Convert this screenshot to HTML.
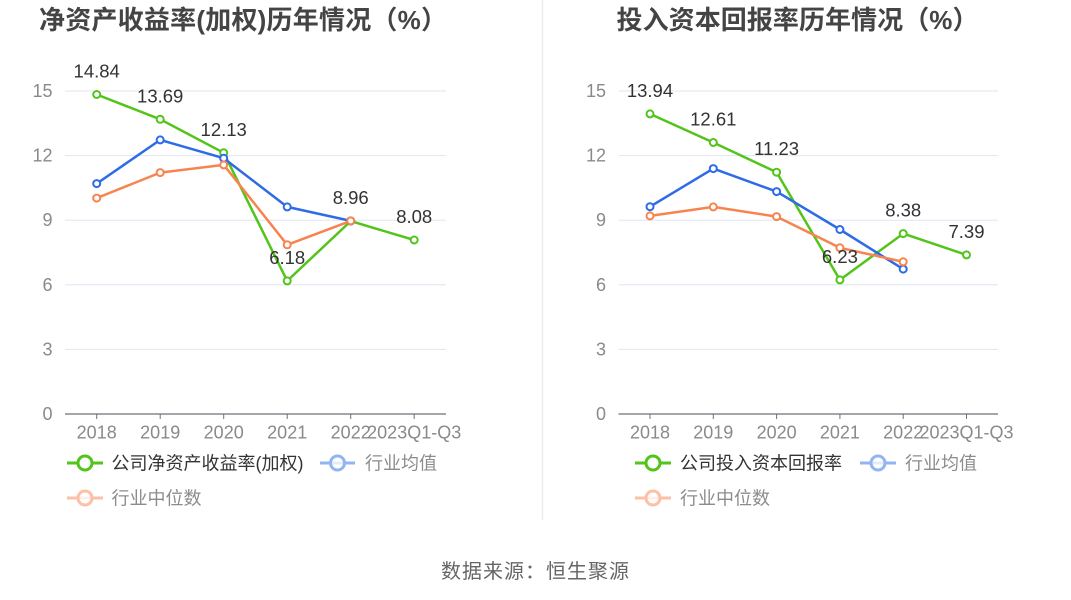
<!DOCTYPE html>
<html>
<head>
<meta charset="utf-8">
<style>
  html, body { margin: 0; padding: 0; background: #ffffff; }
  body { width: 1071px; height: 600px; overflow: hidden; }
  svg { display: block; }
  .title { font-family: "Liberation Sans", "Noto Sans CJK SC", sans-serif; font-weight: bold; font-size: 26px; fill: #444; }
  .ylab { font-family: "Liberation Sans", sans-serif; font-size: 18px; fill: #8a8a8a; text-anchor: end; }
  .xlab { font-family: "Liberation Sans", sans-serif; font-size: 18px; fill: #8a8a8a; text-anchor: middle; }
  .dlab { font-family: "Liberation Sans", sans-serif; font-size: 18.5px; fill: #333; text-anchor: middle; }
  .leg { font-family: "Liberation Sans", "Noto Sans CJK SC", sans-serif; font-size: 18px; }
  .foot { font-family: "Liberation Sans", "Noto Sans CJK SC", sans-serif; font-size: 20px; fill: #666; }
</style>
</head>
<body>
<svg width="1071" height="600" viewBox="0 0 1071 600" xmlns="http://www.w3.org/2000/svg">
  <rect width="1071" height="600" fill="#fff"/>

  <!-- separator -->
  <line x1="542.5" y1="0" x2="542.5" y2="520" stroke="#eeeeee" stroke-width="1.5"/>

  <!-- ================= LEFT CHART ================= -->
  <text class="title" x="39" y="29" textLength="408" lengthAdjust="spacing">净资产收益率(加权)历年情况（%）</text>

  <!-- grid -->
  <g stroke="#e0e6f1" stroke-width="1">
    <line x1="65" y1="91" x2="446" y2="91"/>
    <line x1="65" y1="155.6" x2="446" y2="155.6"/>
    <line x1="65" y1="220.2" x2="446" y2="220.2"/>
    <line x1="65" y1="284.8" x2="446" y2="284.8"/>
    <line x1="65" y1="349.4" x2="446" y2="349.4"/>
  </g>
  <line x1="65" y1="414" x2="446" y2="414" stroke="#6e7079" stroke-width="1.2"/>
  <g stroke="#6e7079" stroke-width="1">
    <line x1="96.7" y1="414" x2="96.7" y2="419"/>
    <line x1="160.2" y1="414" x2="160.2" y2="419"/>
    <line x1="223.7" y1="414" x2="223.7" y2="419"/>
    <line x1="287.2" y1="414" x2="287.2" y2="419"/>
    <line x1="350.7" y1="414" x2="350.7" y2="419"/>
    <line x1="414.2" y1="414" x2="414.2" y2="419"/>
  </g>
  <!-- y labels -->
  <text class="ylab" x="52.5" y="97">15</text>
  <text class="ylab" x="52.5" y="161.6">12</text>
  <text class="ylab" x="52.5" y="226.2">9</text>
  <text class="ylab" x="52.5" y="290.8">6</text>
  <text class="ylab" x="52.5" y="355.4">3</text>
  <text class="ylab" x="52.5" y="420">0</text>
  <!-- x labels -->
  <text class="xlab" x="96.7" y="438.5">2018</text>
  <text class="xlab" x="160.2" y="438.5">2019</text>
  <text class="xlab" x="223.7" y="438.5">2020</text>
  <text class="xlab" x="287.2" y="438.5">2021</text>
  <text class="xlab" x="350.7" y="438.5">2022</text>
  <text class="xlab" x="414.2" y="438.5">2023Q1-Q3</text>

  <!-- series -->
  <g fill="none" stroke-width="2.5" stroke-linejoin="round">
    <polyline stroke="#52c41a" points="96.7,94.5 160.2,119.3 223.7,152.8 287.2,280.9 350.7,221.1 414.2,240.0"/>
    <polyline stroke="#2e6be6" points="96.7,183.6 160.2,139.9 223.7,158.2 287.2,206.9 350.7,220.9"/>
    <polyline stroke="#f7844f" points="96.7,198.1 160.2,172.6 223.7,164.9 287.2,244.8 350.7,220.9"/>
  </g>
  <g fill="#fff" stroke-width="2">
    <g stroke="#52c41a">
      <circle cx="96.7" cy="94.5" r="3.5"/><circle cx="160.2" cy="119.3" r="3.5"/><circle cx="223.7" cy="152.8" r="3.5"/>
      <circle cx="287.2" cy="280.9" r="3.5"/><circle cx="350.7" cy="221.1" r="3.5"/><circle cx="414.2" cy="240.0" r="3.5"/>
    </g>
    <g stroke="#2e6be6">
      <circle cx="96.7" cy="183.6" r="3.5"/><circle cx="160.2" cy="139.9" r="3.5"/><circle cx="223.7" cy="158.2" r="3.5"/>
      <circle cx="287.2" cy="206.9" r="3.5"/><circle cx="350.7" cy="220.9" r="3.5"/>
    </g>
    <g stroke="#f7844f">
      <circle cx="96.7" cy="198.1" r="3.5"/><circle cx="160.2" cy="172.6" r="3.5"/><circle cx="223.7" cy="164.9" r="3.5"/>
      <circle cx="287.2" cy="244.8" r="3.5"/><circle cx="350.7" cy="220.9" r="3.5"/>
    </g>
  </g>
  <!-- data labels -->
  <text class="dlab" x="96.7" y="77.5">14.84</text>
  <text class="dlab" x="160.2" y="102.3">13.69</text>
  <text class="dlab" x="223.7" y="135.8">12.13</text>
  <text class="dlab" x="287.2" y="263.9">6.18</text>
  <text class="dlab" x="350.7" y="204.1">8.96</text>
  <text class="dlab" x="414.2" y="223">8.08</text>

  <!-- legend -->
  <g>
    <line x1="67" y1="463" x2="103" y2="463" stroke="#52c41a" stroke-width="3"/>
    <circle cx="85" cy="463" r="7" fill="#fff" stroke="#52c41a" stroke-width="3"/>
    <text class="leg" x="111.5" y="469.5" fill="#333">公司净资产收益率(加权)</text>

    <line x1="320" y1="463" x2="355" y2="463" stroke="#93b4f2" stroke-width="3"/>
    <circle cx="337.5" cy="463" r="7" fill="#fff" fill-opacity="0.75" stroke="#93b4f2" stroke-width="3"/>
    <text class="leg" x="365" y="469.5" fill="#8c8c8c">行业均值</text>

    <line x1="67" y1="498" x2="103" y2="498" stroke="#fcc0a6" stroke-width="3"/>
    <circle cx="85" cy="498" r="7" fill="#fff" fill-opacity="0.75" stroke="#fcc0a6" stroke-width="3"/>
    <text class="leg" x="111.5" y="504.5" fill="#8c8c8c">行业中位数</text>
  </g>

  <!-- ================= RIGHT CHART ================= -->
  <text class="title" x="616.5" y="29" textLength="362" lengthAdjust="spacing">投入资本回报率历年情况（%）</text>

  <g stroke="#e0e6f1" stroke-width="1">
    <line x1="618.5" y1="91" x2="998" y2="91"/>
    <line x1="618.5" y1="155.6" x2="998" y2="155.6"/>
    <line x1="618.5" y1="220.2" x2="998" y2="220.2"/>
    <line x1="618.5" y1="284.8" x2="998" y2="284.8"/>
    <line x1="618.5" y1="349.4" x2="998" y2="349.4"/>
  </g>
  <line x1="618.5" y1="414" x2="998" y2="414" stroke="#6e7079" stroke-width="1.2"/>
  <g stroke="#6e7079" stroke-width="1">
    <line x1="650" y1="414" x2="650" y2="419"/>
    <line x1="713.3" y1="414" x2="713.3" y2="419"/>
    <line x1="776.6" y1="414" x2="776.6" y2="419"/>
    <line x1="839.9" y1="414" x2="839.9" y2="419"/>
    <line x1="903.2" y1="414" x2="903.2" y2="419"/>
    <line x1="966.5" y1="414" x2="966.5" y2="419"/>
  </g>
  <text class="ylab" x="606" y="97">15</text>
  <text class="ylab" x="606" y="161.6">12</text>
  <text class="ylab" x="606" y="226.2">9</text>
  <text class="ylab" x="606" y="290.8">6</text>
  <text class="ylab" x="606" y="355.4">3</text>
  <text class="ylab" x="606" y="420">0</text>
  <text class="xlab" x="650" y="438.5">2018</text>
  <text class="xlab" x="713.3" y="438.5">2019</text>
  <text class="xlab" x="776.6" y="438.5">2020</text>
  <text class="xlab" x="839.9" y="438.5">2021</text>
  <text class="xlab" x="903.2" y="438.5">2022</text>
  <text class="xlab" x="966.5" y="438.5">2023Q1-Q3</text>

  <g fill="none" stroke-width="2.5" stroke-linejoin="round">
    <polyline stroke="#52c41a" points="650,113.9 713.3,142.5 776.6,172.2 839.9,279.9 903.2,233.6 966.5,254.9"/>
    <polyline stroke="#2e6be6" points="650,206.7 713.3,168.6 776.6,191.6 839.9,229.5 903.2,269.1"/>
    <polyline stroke="#f7844f" points="650,215.9 713.3,206.9 776.6,216.6 839.9,247.8 903.2,261.8"/>
  </g>
  <g fill="#fff" stroke-width="2">
    <g stroke="#52c41a">
      <circle cx="650" cy="113.9" r="3.5"/><circle cx="713.3" cy="142.5" r="3.5"/><circle cx="776.6" cy="172.2" r="3.5"/>
      <circle cx="839.9" cy="279.9" r="3.5"/><circle cx="903.2" cy="233.6" r="3.5"/><circle cx="966.5" cy="254.9" r="3.5"/>
    </g>
    <g stroke="#2e6be6">
      <circle cx="650" cy="206.7" r="3.5"/><circle cx="713.3" cy="168.6" r="3.5"/><circle cx="776.6" cy="191.6" r="3.5"/>
      <circle cx="839.9" cy="229.5" r="3.5"/><circle cx="903.2" cy="269.1" r="3.5"/>
    </g>
    <g stroke="#f7844f">
      <circle cx="650" cy="215.9" r="3.5"/><circle cx="713.3" cy="206.9" r="3.5"/><circle cx="776.6" cy="216.6" r="3.5"/>
      <circle cx="839.9" cy="247.8" r="3.5"/><circle cx="903.2" cy="261.8" r="3.5"/>
    </g>
  </g>
  <text class="dlab" x="650" y="96.9">13.94</text>
  <text class="dlab" x="713.3" y="125.5">12.61</text>
  <text class="dlab" x="776.6" y="155.2">11.23</text>
  <text class="dlab" x="839.9" y="262.9">6.23</text>
  <text class="dlab" x="903.2" y="216.6">8.38</text>
  <text class="dlab" x="966.5" y="237.9">7.39</text>

  <g>
    <line x1="635" y1="463" x2="671" y2="463" stroke="#52c41a" stroke-width="3"/>
    <circle cx="653" cy="463" r="7" fill="#fff" stroke="#52c41a" stroke-width="3"/>
    <text class="leg" x="680" y="469.5" fill="#333">公司投入资本回报率</text>

    <line x1="860" y1="463" x2="896" y2="463" stroke="#93b4f2" stroke-width="3"/>
    <circle cx="878" cy="463" r="7" fill="#fff" fill-opacity="0.75" stroke="#93b4f2" stroke-width="3"/>
    <text class="leg" x="905" y="469.5" fill="#8c8c8c">行业均值</text>

    <line x1="635" y1="498" x2="671" y2="498" stroke="#fcc0a6" stroke-width="3"/>
    <circle cx="653" cy="498" r="7" fill="#fff" fill-opacity="0.75" stroke="#fcc0a6" stroke-width="3"/>
    <text class="leg" x="680" y="504.5" fill="#8c8c8c">行业中位数</text>
  </g>

  <!-- footer -->
  <text class="foot" x="441" y="578" textLength="188" lengthAdjust="spacing">数据来源：恒生聚源</text>
</svg>
</body>
</html>
